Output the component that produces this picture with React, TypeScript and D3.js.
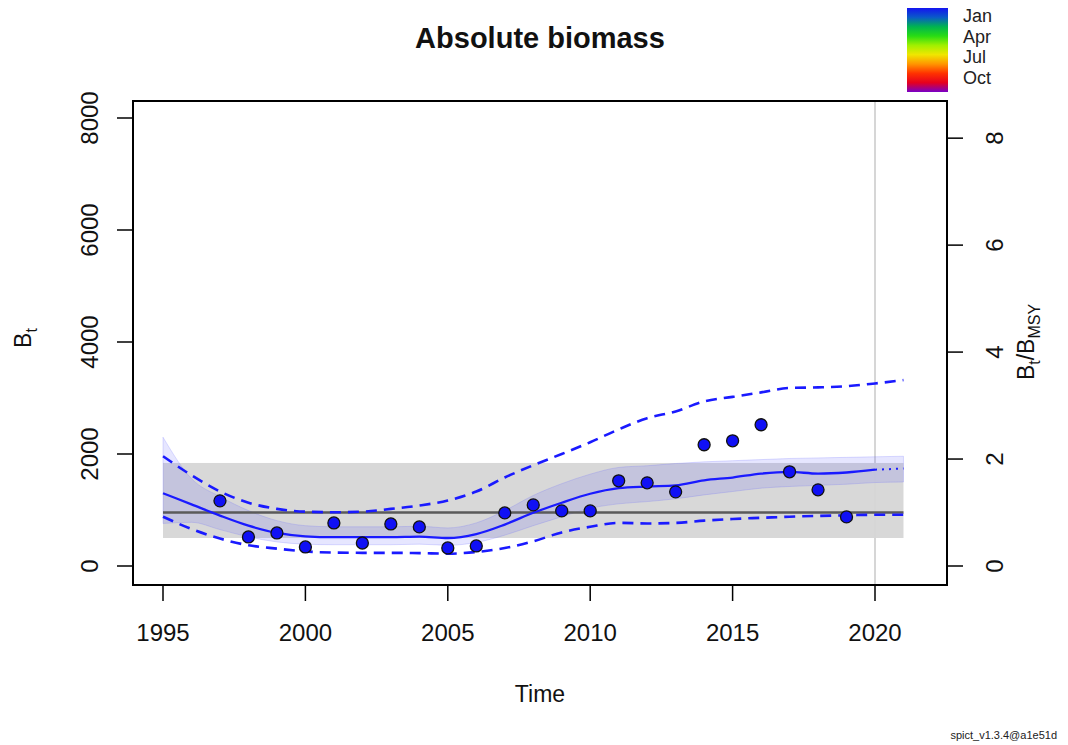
import React, { useEffect, useRef } from 'react'
import * as d3 from 'd3'

// estimated biomass and intervals
const years = [1995, 1996, 1997, 1998, 1999, 2000, 2001, 2002, 2003, 2004, 2005, 2006, 2007, 2008,
  2009, 2010, 2011, 2012, 2013, 2014, 2015, 2016, 2017, 2018, 2019, 2020, 2021]
const bEst = [1300, 1100, 900, 720, 590, 530, 515, 515, 515, 525, 500, 570, 740, 950,
  1130, 1290, 1390, 1420, 1440, 1530, 1580, 1650, 1680, 1650, 1670, 1720, 1740]
const bRelLo = [760, 780, 650, 520, 430, 390, 380, 380, 380, 390, 370, 420, 550, 720,
  880, 1030, 1110, 1150, 1200, 1270, 1330, 1390, 1420, 1440, 1460, 1490, 1500]
const bRelHi = [2300, 1560, 1240, 990, 810, 720, 700, 700, 700, 710, 680, 770, 990, 1260,
  1470, 1640, 1760, 1790, 1830, 1860, 1880, 1900, 1920, 1930, 1940, 1950, 1960]
const bCiLo = [880, 660, 490, 370, 310, 260, 240, 235, 235, 230, 220, 250, 320, 440,
  600, 700, 770, 760, 770, 810, 840, 860, 880, 895, 905, 915, 915]
const bCiHi = [1960, 1620, 1330, 1130, 1020, 970, 960, 970, 1020, 1080, 1170, 1330, 1580, 1800,
  2000, 2210, 2440, 2640, 2760, 2940, 3020, 3100, 3180, 3190, 3210, 3260, 3320]

// observed index (scaled)
const obsYears = [1997, 1998, 1999, 2000, 2001, 2002, 2003, 2004, 2005, 2006, 2007, 2008,
  2009, 2010, 2011, 2012, 2013, 2014, 2015, 2016, 2017, 2018, 2019]
const obsIndex = [1163, 519, 590, 340, 769, 411, 751, 698, 322, 358, 948, 1091,
  984, 984, 1521, 1485, 1324, 2165, 2236, 2522, 1682, 1360, 877]

const bmsy = 955
const bmsyCi = [500, 1840]
const lastObsYear = 2020

const xTicks = [1995, 2000, 2005, 2010, 2015, 2020]
const yTicks = [0, 2000, 4000, 6000, 8000]
const relTicks = [0, 2, 4, 6, 8]
const seasonLabels = ['Jan', 'Apr', 'Jul', 'Oct']
const seasonColours = ['#1414f0', '#0a5ac8', '#00b450', '#28dc14', '#a0f000', '#f0e600', '#ff9600', '#ff3200', '#e6001e', '#7800c8']

const W = 1068
const H = 745
const FONT = '"Liberation Sans", Arial, sans-serif'

const App = () => {
  const ref = useRef<SVGSVGElement>(null)

  useEffect(() => {
    const svg = d3.select(ref.current)
    svg.selectAll('*').remove()

    const box = { left: 133, right: 947, top: 101, bottom: 585 }
    const x = d3.scaleLinear().domain([1995, 2020]).range([163, 875])
    const y = d3.scaleLinear().domain([0, 8000]).range([566, 118])
    const yRel = (v: number) => y(v * bmsy)

    const defs = svg.append('defs')
    defs.append('clipPath').attr('id', 'plotclip')
      .append('rect')
      .attr('x', box.left).attr('y', box.top)
      .attr('width', box.right - box.left).attr('height', box.bottom - box.top)

    const g = svg.append('g').attr('clip-path', 'url(#plotclip)')

    // Bmsy CI band
    g.append('rect')
      .attr('x', x(1995)).attr('y', y(bmsyCi[1]))
      .attr('width', x(2021) - x(1995))
      .attr('height', y(bmsyCi[0]) - y(bmsyCi[1]))
      .attr('fill', '#d8d8d8')

    // vertical line at last observation
    g.append('line')
      .attr('x1', x(lastObsYear)).attr('x2', x(lastObsYear))
      .attr('y1', box.top).attr('y2', box.bottom)
      .attr('stroke', '#d6d6d6').attr('stroke-width', 2)

    const idx = years.map((_, i) => i)
    const area = d3.area<number>()
      .x(i => x(years[i]))
      .y0(i => y(bRelLo[i]))
      .y1(i => y(bRelHi[i]))
      .curve(d3.curveMonotoneX)
    g.append('path')
      .attr('d', area(idx))
      .attr('fill', 'rgba(90,90,255,0.15)')
      .attr('stroke', 'rgba(90,90,255,0.2)')
      .attr('stroke-width', 1)

    // Bmsy line
    g.append('line')
      .attr('x1', x(1995)).attr('x2', x(2021))
      .attr('y1', y(bmsy)).attr('y2', y(bmsy))
      .attr('stroke', '#5a5a5a').attr('stroke-width', 2.5)

    const lineOf = (vals: number[]) => d3.line<number>()
      .x(i => x(years[i]))
      .y(i => y(vals[i]))
      .curve(d3.curveMonotoneX)

    const past = idx.filter(i => years[i] <= lastObsYear)
    const future = idx.filter(i => years[i] >= lastObsYear)

    ;[bCiLo, bCiHi].forEach(vals => {
      g.append('path')
        .attr('d', lineOf(vals)(idx))
        .attr('fill', 'none')
        .attr('stroke', '#1a1aff')
        .attr('stroke-width', 2.6)
        .attr('stroke-dasharray', '11,7')
    })

    g.append('path')
      .attr('d', lineOf(bEst)(past))
      .attr('fill', 'none')
      .attr('stroke', '#1a1aff')
      .attr('stroke-width', 2.3)
    g.append('path')
      .attr('d', lineOf(bEst)(future))
      .attr('fill', 'none')
      .attr('stroke', '#1a1aff')
      .attr('stroke-width', 2)
      .attr('stroke-dasharray', '2,5')

    // observations
    g.selectAll('circle.obs')
      .data(obsYears.map((yr, i) => [yr, obsIndex[i]]))
      .enter()
      .append('circle')
      .attr('class', 'obs')
      .attr('cx', d => x(d[0]))
      .attr('cy', d => y(d[1]))
      .attr('r', 6)
      .attr('fill', '#1010f5')
      .attr('stroke', '#111')
      .attr('stroke-width', 1.3)

    // box
    svg.append('rect')
      .attr('x', box.left).attr('y', box.top)
      .attr('width', box.right - box.left).attr('height', box.bottom - box.top)
      .attr('fill', 'none').attr('stroke', '#000').attr('stroke-width', 2)

    const tickLen = 16

    // x axis
    xTicks.forEach(t => {
      svg.append('line')
        .attr('x1', x(t)).attr('x2', x(t))
        .attr('y1', box.bottom).attr('y2', box.bottom + tickLen)
        .attr('stroke', '#000').attr('stroke-width', 1.5)
      svg.append('text')
        .text(t)
        .attr('x', x(t)).attr('y', 641)
        .attr('text-anchor', 'middle')
        .attr('font-size', 24)
        .attr('font-family', FONT)
        .attr('fill', '#111')
    })

    // left y axis
    yTicks.forEach(t => {
      svg.append('line')
        .attr('x1', box.left - tickLen).attr('x2', box.left)
        .attr('y1', y(t)).attr('y2', y(t))
        .attr('stroke', '#000').attr('stroke-width', 1.5)
      svg.append('text')
        .text(t)
        .attr('transform', `translate(98, ${y(t)}) rotate(-90)`)
        .attr('text-anchor', 'middle')
        .attr('font-size', 24)
        .attr('font-family', FONT)
        .attr('fill', '#111')
    })

    // right y axis (relative)
    relTicks.forEach(t => {
      svg.append('line')
        .attr('x1', box.right).attr('x2', box.right + tickLen)
        .attr('y1', yRel(t)).attr('y2', yRel(t))
        .attr('stroke', '#000').attr('stroke-width', 1.5)
      svg.append('text')
        .text(t)
        .attr('transform', `translate(1003, ${yRel(t)}) rotate(-90)`)
        .attr('text-anchor', 'middle')
        .attr('font-size', 24)
        .attr('font-family', FONT)
        .attr('fill', '#111')
    })

    // title
    svg.append('text')
      .text('Absolute biomass')
      .attr('x', (box.left + box.right) / 2).attr('y', 48)
      .attr('text-anchor', 'middle')
      .attr('font-size', 29)
      .attr('font-weight', 'bold')
      .attr('font-family', FONT)
      .attr('fill', '#111')

    // xlab
    svg.append('text')
      .text('Time')
      .attr('x', (box.left + box.right) / 2).attr('y', 702)
      .attr('text-anchor', 'middle')
      .attr('font-size', 23)
      .attr('font-family', FONT)
      .attr('fill', '#111')

    // ylab left
    const yl = svg.append('text')
      .attr('transform', 'translate(31, 338) rotate(-90)')
      .attr('text-anchor', 'middle')
      .attr('font-size', 23)
      .attr('font-family', FONT)
      .attr('fill', '#111')
    yl.append('tspan').text('B')
    yl.append('tspan').text('t').attr('font-size', 16).attr('dy', 6)

    // ylab right
    const yr = svg.append('text')
      .attr('transform', 'translate(1034, 342) rotate(-90)')
      .attr('text-anchor', 'middle')
      .attr('font-size', 23)
      .attr('font-family', FONT)
      .attr('fill', '#111')
    yr.append('tspan').text('B')
    yr.append('tspan').text('t').attr('font-size', 16).attr('dy', 6)
    yr.append('tspan').text('/B').attr('dy', -6)
    yr.append('tspan').text('MSY').attr('font-size', 16).attr('dy', 6)

    // season colour legend
    const grad = defs.append('linearGradient')
      .attr('id', 'seasongrad')
      .attr('x1', 0).attr('x2', 0).attr('y1', 0).attr('y2', 1)
    seasonColours.forEach((c, i) => {
      grad.append('stop')
        .attr('offset', i / (seasonColours.length - 1))
        .attr('stop-color', c)
    })
    svg.append('rect')
      .attr('x', 907).attr('y', 8)
      .attr('width', 41).attr('height', 84)
      .attr('fill', 'url(#seasongrad)')
    seasonLabels.forEach((s, i) => {
      svg.append('text')
        .text(s)
        .attr('x', 963).attr('y', 22 + i * 20.5)
        .attr('font-size', 18)
        .attr('font-family', FONT)
        .attr('fill', '#222')
    })

    // version stamp
    svg.append('text')
      .text('spict_v1.3.4@a1e51d')
      .attr('x', 1057).attr('y', 739)
      .attr('text-anchor', 'end')
      .attr('font-size', 11)
      .attr('font-family', FONT)
      .attr('fill', '#222')
  }, [])

  return (
    <svg
      ref={ref}
      width={W}
      height={H}
      style={{ position: 'absolute', left: 0, top: 0, background: '#fff' }}
    />
  )
}

export default App
